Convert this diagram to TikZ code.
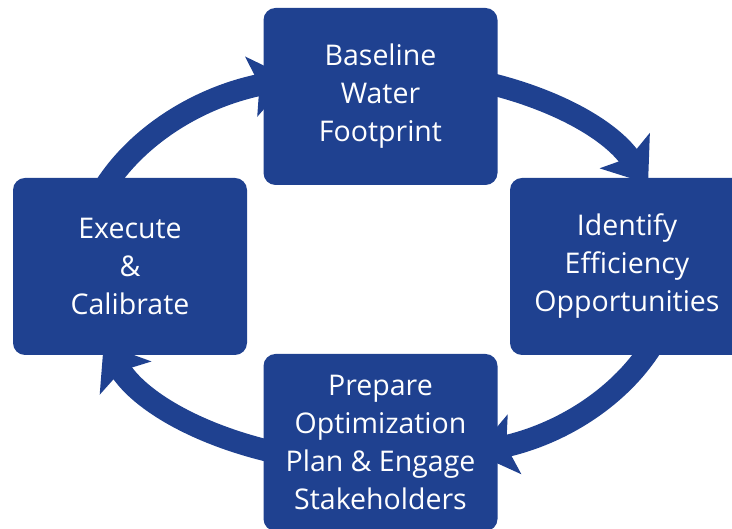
\documentclass[tikz,border=0pt]{standalone}
\usepackage{fontspec}
\setmainfont{Open Sans}
\usetikzlibrary{arrows.meta,positioning,calc,backgrounds}
\definecolor{geblue}{HTML}{1F4190}

\begin{document}
\begin{tikzpicture}[
    x=1pt, y=1pt,
    block/.style={
        rectangle,
        fill=geblue,
        text=white,
        align=center,
        rounded corners=12pt,
        minimum width=234pt,
        minimum height=177pt,
        inner sep=0pt,
        font=\fontsize{28.5}{38}\selectfont
    },
    ring/.style={
        draw=geblue,
        line width=22pt,
        -{Stealth[length=40pt,width=60pt,inset=8pt]}
    }
]
    \useasboundingbox (0,0) rectangle (732,529);

    % Steps
    \node [block] (baseline) at (380.5,432.5) {Baseline\\Water\\Footprint};
    \node [block] (identify) at (627,262.5) {Identify\\Efficiency\\Opportunities};
    \node [block] (prepare) at (380.5,86.5) {Prepare\\Optimization\\Plan \& Engage\\Stakeholders};
    \node [block] (execute) at (130,262.5) {Execute\\\&\\Calibrate};

    % Cycle arcs behind the steps
    \coordinate (centre) at (378,262);
    \coordinate (from-execute) at ($(centre)+(180:298pt and 197pt)$);
    \coordinate (from-baseline) at ($(centre)+(90:298pt and 197pt)$);
    \coordinate (from-identify) at ($(centre)+(0:298pt and 197pt)$);
    \coordinate (from-prepare) at ($(centre)+(-90:298pt and 197pt)$);

    \begin{scope}[on background layer]
        \draw [ring] (from-execute) arc[start angle=180, end angle=107, x radius=298pt, y radius=197pt];
        \draw [ring] (from-baseline) arc[start angle=90, end angle=25, x radius=298pt, y radius=197pt];
        \draw [ring] (from-identify) arc[start angle=0, end angle=-71, x radius=298pt, y radius=197pt];
        \draw [ring] (from-prepare) arc[start angle=-90, end angle=-157, x radius=298pt, y radius=197pt];
    \end{scope}

\end{tikzpicture}
\end{document}
